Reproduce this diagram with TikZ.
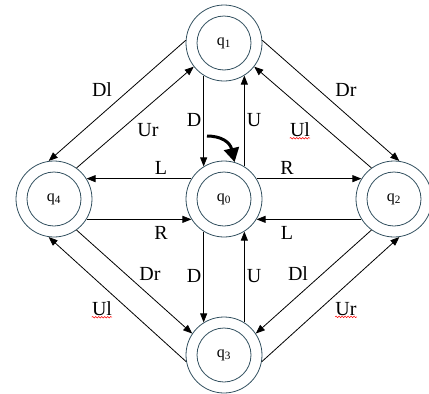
\documentclass[tikz,border=0pt]{standalone}
\usepackage{fontspec}
\setmainfont{Liberation Serif}
\usetikzlibrary{arrows.meta,decorations.pathmorphing}
\definecolor{ring}{RGB}{50,80,95}

\begin{document}
\begin{tikzpicture}[x=1pt,y=-1pt]
	% styles
	\tikzstyle{qstate} += [circle,draw=ring,line width=0.8pt,minimum size=76pt,inner sep=0pt,font=\fontsize{16}{16}\selectfont]
	\tikzstyle{move} += [draw,line width=0.8pt,-{Triangle[length=9pt,width=7pt]}]
	\tikzstyle{lab} += [font=\fontsize{20}{20}\selectfont,inner sep=1pt]
	\tikzstyle{typo} += [draw=red,line width=0.5pt,decorate,decoration={snake,amplitude=0.8pt,segment length=3pt}]

	% bounding box
	\path[use as bounding box] (0,0) rectangle (429,394);

	% states
	\node[qstate] (q0) at (224,199) {q\textsubscript{0}};
	\node[qstate] (q1) at (224,43) {q\textsubscript{1}};
	\node[qstate] (q2) at (394,199) {q\textsubscript{2}};
	\node[qstate] (q3) at (224,355) {q\textsubscript{3}};
	\node[qstate] (q4) at (54,199) {q\textsubscript{4}};

	% inner rings
	\foreach \s in {q0,q1,q2,q3,q4}
	{
		\draw[ring,line width=0.8pt] (\s) circle (27pt);
	}

	% start arrow
	\coordinate (start) at (207,136);
	\draw[line width=3pt,-{Triangle[length=14pt,width=15pt]}] (start) .. controls (221,136) and (230,142) .. (q0.74);

	% vertical and horizontal moves
	\draw[move] (q1.238) -- (q0.122);
	\draw[move] (q0.58) -- (q1.302);
	\draw[move] (q0.238) -- (q3.122);
	\draw[move] (q3.58) -- (q0.302);
	\draw[move] (q0.148) -- (q4.32);
	\draw[move] (q4.-32) -- (q0.212);
	\draw[move] (q0.32) -- (q2.148);
	\draw[move] (q2.212) -- (q0.-32);

	% diagonal moves
	\draw[move] (q1.176) -- (q4.98);
	\draw[move] (q4.54) -- (q1.218);
	\draw[move] (q1.4) -- (q2.82);
	\draw[move] (q2.126) -- (q1.322);
	\draw[move] (q4.306) -- (q3.146);
	\draw[move] (q3.190) -- (q4.262);
	\draw[move] (q2.234) -- (q3.34);
	\draw[move] (q3.350) -- (q2.278);

	% labels
	\node[lab] (dU) at (194,120) {D};
	\node[lab] (uU) at (254,120) {U};
	\node[lab] (dD) at (194,276) {D};
	\node[lab] (uD) at (254,276) {U};
	\node[lab] (lL) at (161,168) {L};
	\node[lab] (rL) at (161,233) {R};
	\node[lab] (rR) at (287,168) {R};
	\node[lab] (lR) at (287,233) {L};
	\node[lab] (dlT) at (102,90) {Dl};
	\node[lab] (urT) at (148,130) {Ur};
	\node[lab] (drT) at (346,90) {Dr};
	\node[lab] (ulT) at (300,130) {Ul};
	\node[lab] (drB) at (150,274) {Dr};
	\node[lab] (ulB) at (102,309) {Ul};
	\node[lab] (dlB) at (298,274) {Dl};
	\node[lab] (urB) at (346,309) {Ur};

	% spelling marks
	\foreach \w in {ulT,ulB,urB}
	{
		\draw[typo] ([xshift=1pt]\w.south west) -- ([xshift=-1pt]\w.south east);
	}
\end{tikzpicture}
\end{document}
